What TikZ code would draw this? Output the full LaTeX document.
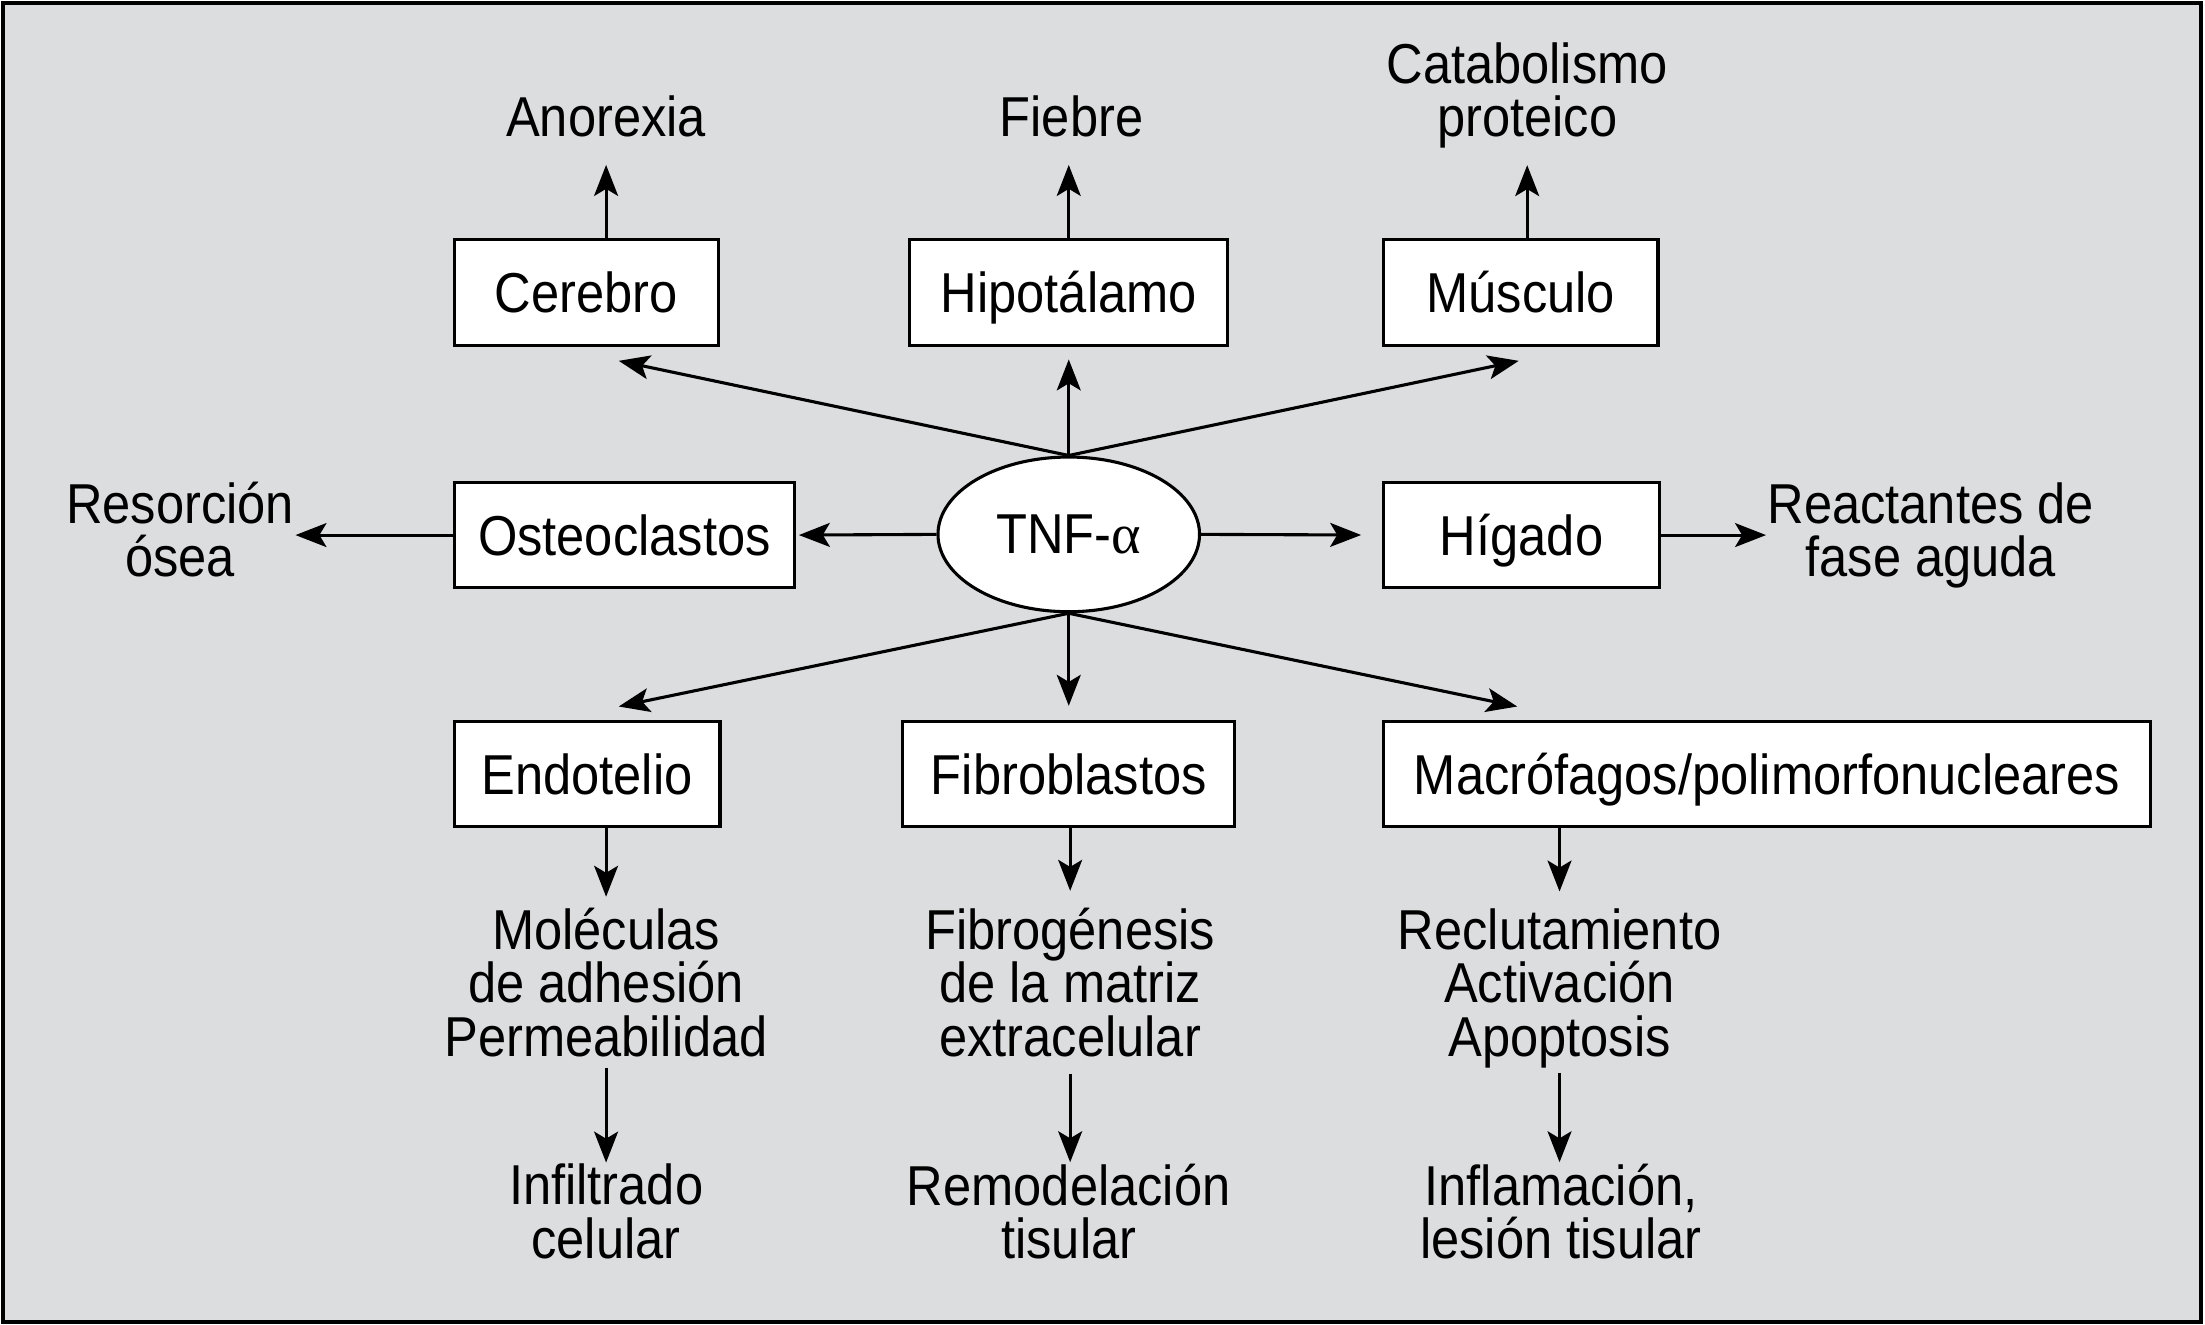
\documentclass[tikz,border=0pt]{standalone}
\usepackage{fontspec}
\setmainfont{Liberation Sans}[FakeStretch=0.9]
\newfontfamily\greekfont{Liberation Serif}
\usepackage{tikz}
\usetikzlibrary{arrows.meta,shapes.geometric,calc}
\definecolor{panelgray}{RGB}{220,221,223}
\tikzset{
  organ/.style={draw,fill=white,line width=2.2pt,minimum height=75pt,inner sep=0pt,text height=29pt,text depth=0pt},
  effect/.style={align=center,inner sep=0pt},
}
\begin{document}
\begin{tikzpicture}[x=1pt,y=-1pt,>={Stealth[length=22pt,width=17pt,inset=5pt]},line width=2.2pt,
  every node/.style={font=\fontsize{40}{38}\selectfont}]
\useasboundingbox (0,0) rectangle (1568,942);
\draw[fill=panelgray,line width=2.5pt] (2,2) rectangle (1565,940);

% organs
\node[organ,minimum width=188pt] (cer) at (417,208) {Cerebro};
\node[organ,minimum width=226pt] (hyp) at (760,208) {Hipotálamo};
\node[organ,minimum width=195pt] (mus) at (1081.5,208) {Músculo};
\node[organ,minimum width=242pt] (ost) at (444,380.5) {Osteoclastos};
\node[draw,ellipse,fill=white,line width=2.2pt,minimum width=186pt,minimum height=110pt,inner sep=0pt] (tnf) at (760,380) {TNF-{\greekfont α}};
\node[organ,minimum width=196pt] (hig) at (1082,380.5) {Hígado};
\node[organ,minimum width=189pt] (endo) at (417.5,550.5) {Endotelio};
\node[organ,minimum width=236pt] (fib) at (760,550.5) {Fibroblastos};
\node[organ,minimum width=545pt] (mac) at (1256.5,550.5) {Macrófagos/polimorfonucleares};

% effects
\node[effect] (anor) at (431,82.5) {Anorexia};
\node[effect] (fieb) at (762,82.5) {Fiebre};
\node[effect] (cata) at (1086,67.7) {Catabolismo\\proteico};
\node[effect] (reso) at (128,376.5) {Resorción\\ósea};
\node[effect] (react) at (1373,380.7) {Reactantes de\\fase aguda};
\node[effect] (mol) at (431,698.7) {Moléculas\\de adhesión\\Permeabilidad};
\node[effect] (fibro) at (761,698.5) {Fibrogénesis\\de la matriz\\extracelular};
\node[effect] (recl) at (1109,702.7) {Reclutamiento\\Activación\\Apoptosis};
\node[effect] (infil) at (431,861.5) {Infiltrado\\celular};
\node[effect] (remo) at (760,861.5) {Remodelación\\tisular};
\node[effect] (infl) at (1110,861.5) {Inflamación,\\lesión tisular};

% from TNF
\draw[->] (tnf.north) -- ($(cer.south)+(23,10)$);
\draw[->,shorten >=9pt] (tnf.north) -- (hyp.south);
\draw[->] (tnf.north) -- ($(mus.south)+(-1.5,10)$);
\draw[->,shorten >=2pt] (tnf.west) -- (ost.east);
\draw[->,shorten >=15pt] (tnf.east) -- (hig.west);
\draw[->] (tnf.south) -- ($(endo.north)+(22.5,-9.5)$);
\draw[->,shorten >=10pt] (tnf.south) -- (fib.north);
\draw[->] (tnf.south) -- ($(mac.north west)+(96,-9.5)$);

% to effects
\draw[->,shorten >=19pt] (anor.south |- cer.north) -- (anor.south);
\draw[->,shorten >=19pt] (hyp.north) -- (hyp.north |- fieb.south);
\draw[->,shorten >=11pt] (cata.south |- mus.north) -- (cata.south);
\draw[->] (ost.west) -- (ost.west -| reso.east);
\draw[->] (hig.east) -- (hig.east -| react.west);
\draw[->,shorten >=7pt] (mol.north |- endo.south) -- (mol.north);
\draw[->,shorten >=11pt] (fibro.north |- fib.south) -- (fibro.north);
\draw[->,shorten >=11pt] (recl.north |- mac.south) -- (recl.north);
\draw[->,shorten <=6.5pt] (mol.south) -- (infil.north);
\draw[->,shorten <=11pt] (fibro.south) -- (fibro.south |- remo.north);
\draw[->,shorten <=2.5pt] (recl.south) -- (recl.south |- infl.north);
\end{tikzpicture}
\end{document}
